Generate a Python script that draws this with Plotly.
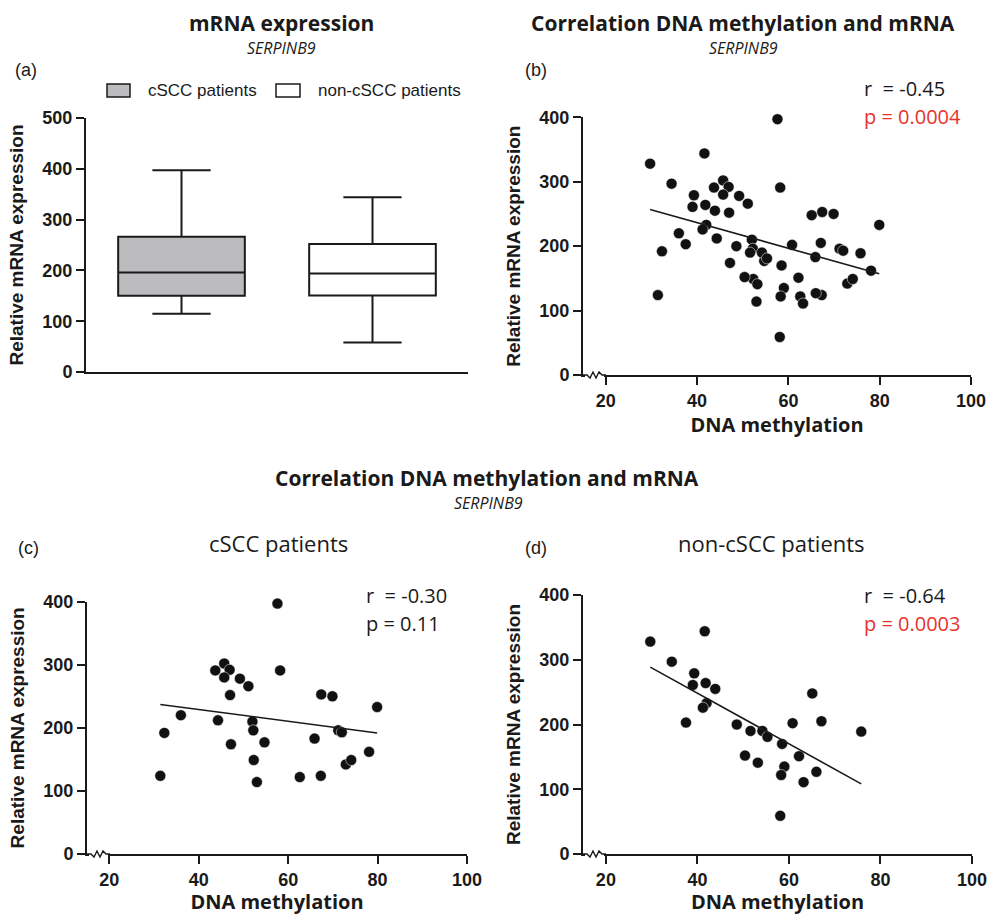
import numpy as np
import plotly.graph_objects as go

# ---------------- data ----------------
groups = ["cSCC patients", "non-cSCC patients"]
box_q1 = [150, 150.5]
box_median = [196, 194]
box_q3 = [266, 252]
box_min = [114.5, 58]
box_max = [397, 344]

cscc_x = [31.4, 32.3, 36.0, 43.7, 45.7, 46.9, 45.7, 49.2, 51.1, 47.0, 44.3, 52.0, 52.2,
          47.2, 54.7, 52.3, 53.0, 57.6, 58.2, 62.6, 65.9, 67.3, 67.4, 69.9, 71.2, 72.0,
          72.9, 74.1, 78.1, 79.9]
cscc_y = [124, 192, 220, 291, 302, 292, 280, 278, 266, 252, 212, 210, 196,
          174, 177, 149, 114, 397, 291, 122, 183, 124, 253, 250, 196, 193,
          142, 149, 162, 233]

non_x = [29.7, 34.4, 41.6, 39.3, 39.0, 41.8, 43.9, 42.0, 41.2, 37.5, 48.6, 51.6, 54.2,
         55.3, 50.4, 53.2, 58.5, 60.8, 59.0, 58.3, 62.2, 63.2, 66.0, 65.1, 67.1, 75.8, 58.1]
non_y = [328, 297, 344, 279, 261, 264, 255, 233, 226, 203, 200, 190, 190,
         181, 152, 141, 170, 202, 135, 122, 151, 111, 127, 248, 205, 189, 59]

stats_all = ["r  = -0.45", "p = 0.0004"]
stats_cscc = ["r  = -0.30", "p = 0.11"]
stats_non = ["r  = -0.64", "p = 0.0003"]

x_ticks = [20, 40, 60, 80, 100]
y_ticks_box = [0, 100, 200, 300, 400, 500]
y_ticks_sc = [0, 100, 200, 300, 400]

# ---------------- style ----------------
W, H = 990, 915
INK = "#1a1a1a"
GRAY = "#bcbcbe"
RED = "#e8322c"
MYR = "Open Sans"
ARL = "Liberation Sans"


def px(x):
    return x / W


def py(y):
    return 1 - y / H


fig = go.Figure()

# panel (a) boxes
fills = [GRAY, "white"]
for i, g in enumerate(groups):
    fig.add_trace(go.Box(
        x=[i], q1=[box_q1[i]], median=[box_median[i]], q3=[box_q3[i]],
        lowerfence=[box_min[i]], upperfence=[box_max[i]],
        name=g, fillcolor=fills[i], line=dict(color=INK, width=2),
        width=0.663, whiskerwidth=0.46, boxpoints=False, showlegend=False,
        xaxis="x", yaxis="y", hoverinfo="skip"))

mk = dict(color="#111111", size=11, line=dict(color="white", width=0.5))


def add_scatter(xs, ys, xa, ya):
    xs = np.array(xs, float)
    ys = np.array(ys, float)
    fig.add_trace(go.Scatter(x=xs, y=ys, mode="markers", marker=mk, cliponaxis=False,
                             showlegend=False, xaxis=xa, yaxis=ya))
    k, b = np.polyfit(xs, ys, 1)
    lx = np.array([xs.min(), xs.max()])
    fig.add_trace(go.Scatter(x=lx, y=k * lx + b, mode="lines",
                             line=dict(color=INK, width=1.6), showlegend=False,
                             xaxis=xa, yaxis=ya, hoverinfo="skip"))


add_scatter(cscc_x + non_x, cscc_y + non_y, "x2", "y2")
add_scatter(cscc_x, cscc_y, "x3", "y3")
add_scatter(non_x, non_y, "x4", "y4")

tickfont = dict(family=ARL, size=18, color=INK)
base = dict(showline=True, linecolor=INK, linewidth=2, ticks="outside", ticklen=8,
            tickwidth=2, tickcolor=INK, showgrid=False, zeroline=False,
            tickfont=tickfont, fixedrange=True, automargin=False)
ytitle = dict(text="<b>Relative mRNA expression</b>",
              font=dict(family=ARL, size=19, color=INK), standoff=14)
xtitle = dict(text="<b>DNA methylation</b>",
              font=dict(family=MYR, size=20, color=INK), standoff=6)


def bold(vals):
    return [f"<b>{v}</b>" for v in vals]


layout = dict(
    template="none",
    width=W, height=H, margin=dict(l=0, r=0, t=0, b=0, pad=0),
    paper_bgcolor="white", plot_bgcolor="white", showlegend=False,
    xaxis=dict(base, domain=[px(86), px(468)], range=[-0.5, 1.5], showticklabels=False,
               ticks="", anchor="y"),
    yaxis=dict(base, domain=[py(372), py(118)], range=[0, 500], tickvals=y_ticks_box,
               ticktext=bold(y_ticks_box), title=ytitle, anchor="x"),
)
doms = {2: ([583, 971], [375, 117.3]), 3: ([87, 467], [854, 601.7]), 4: ([583, 972], [854, 595])}
for n, (dx, dy) in doms.items():
    layout[f"xaxis{n}"] = dict(base, domain=[px(dx[0]), px(dx[1])], range=[15, 100],
                               tickvals=x_ticks, ticktext=bold(x_ticks),
                               title=xtitle, anchor=f"y{n}")
    layout[f"yaxis{n}"] = dict(base, domain=[py(dy[0]), py(dy[1])], range=[0, 400],
                               tickvals=y_ticks_sc, ticktext=bold(y_ticks_sc), title=ytitle,
                               anchor=f"x{n}")
fig.update_layout(**layout)

# axis breaks (zigzag) on scatter x axes
shapes = []
for n, (dx, dy) in doms.items():
    common = dict(xref="paper", yref="paper", xsizemode="pixel", ysizemode="pixel",
                  xanchor=px(dx[0]), yanchor=py(dy[0]), layer="above")
    shapes.append(dict(common, type="path", path="M2,0 L21,0",
                       line=dict(color="white", width=4)))
    shapes.append(dict(common, type="path",
                       path="M0,0 L4,0 L7,-3 L10,3 L13,-3 L16,3 L19,0 L23,0",
                       line=dict(color=INK, width=1.4)))

# manual legend for panel (a)
shapes.append(dict(type="rect", xref="paper", yref="paper", x0=px(107), x1=px(130),
                   y0=py(97), y1=py(84), fillcolor=GRAY, line=dict(color=INK, width=1.5)))
shapes.append(dict(type="rect", xref="paper", yref="paper", x0=px(276), x1=px(300),
                   y0=py(97), y1=py(84), fillcolor="white", line=dict(color=INK, width=1.5)))
fig.update_layout(shapes=shapes)

ann = []


def text(t, x, y, size, family=MYR, color=INK, xanchor="center"):
    ann.append(dict(text=t, x=px(x), y=py(y), xref="paper", yref="paper", showarrow=False,
                    xanchor=xanchor, yanchor="middle",
                    font=dict(family=family, size=size, color=color)))


text("<b>mRNA expression</b>", 281, 23, 21)
text("<i>SERPINB9</i>", 281, 48, 16)
text("<b>Correlation DNA methylation and mRNA</b>", 743, 23, 21)
text("<i>SERPINB9</i>", 743, 48, 16)
text("<b>Correlation DNA methylation and mRNA</b>", 487, 478, 21)
text("<i>SERPINB9</i>", 488, 503, 16)
text("(a)", 26, 70, 18, family=ARL)
text("(b)", 536, 70, 18, family=ARL)
text("(c)", 28, 548, 18, family=ARL)
text("(d)", 536, 548, 18, family=ARL)
text(groups[0], 146, 90, 17, family=ARL, xanchor="left")
text(groups[1], 316, 90, 17, family=ARL, xanchor="left")
text("cSCC patients", 278, 543, 22)
text("non-cSCC patients", 771, 543, 22)
text(stats_all[0], 862, 88, 20, xanchor="left")
text(stats_all[1], 862, 117, 20, color=RED, xanchor="left")
text(stats_cscc[0], 364, 595, 20, xanchor="left")
text(stats_cscc[1], 364, 623, 20, xanchor="left")
text(stats_non[0], 862, 595, 20, xanchor="left")
text(stats_non[1], 862, 623, 20, color=RED, xanchor="left")
fig.update_layout(annotations=ann)

# remove the default page margin so the 990x915 figure fills the window exactly
fig.write_html("out.html",
               config={"displayModeBar": False},
               post_script="document.body.style.margin='0';"
                           "document.body.style.overflow='hidden';")
